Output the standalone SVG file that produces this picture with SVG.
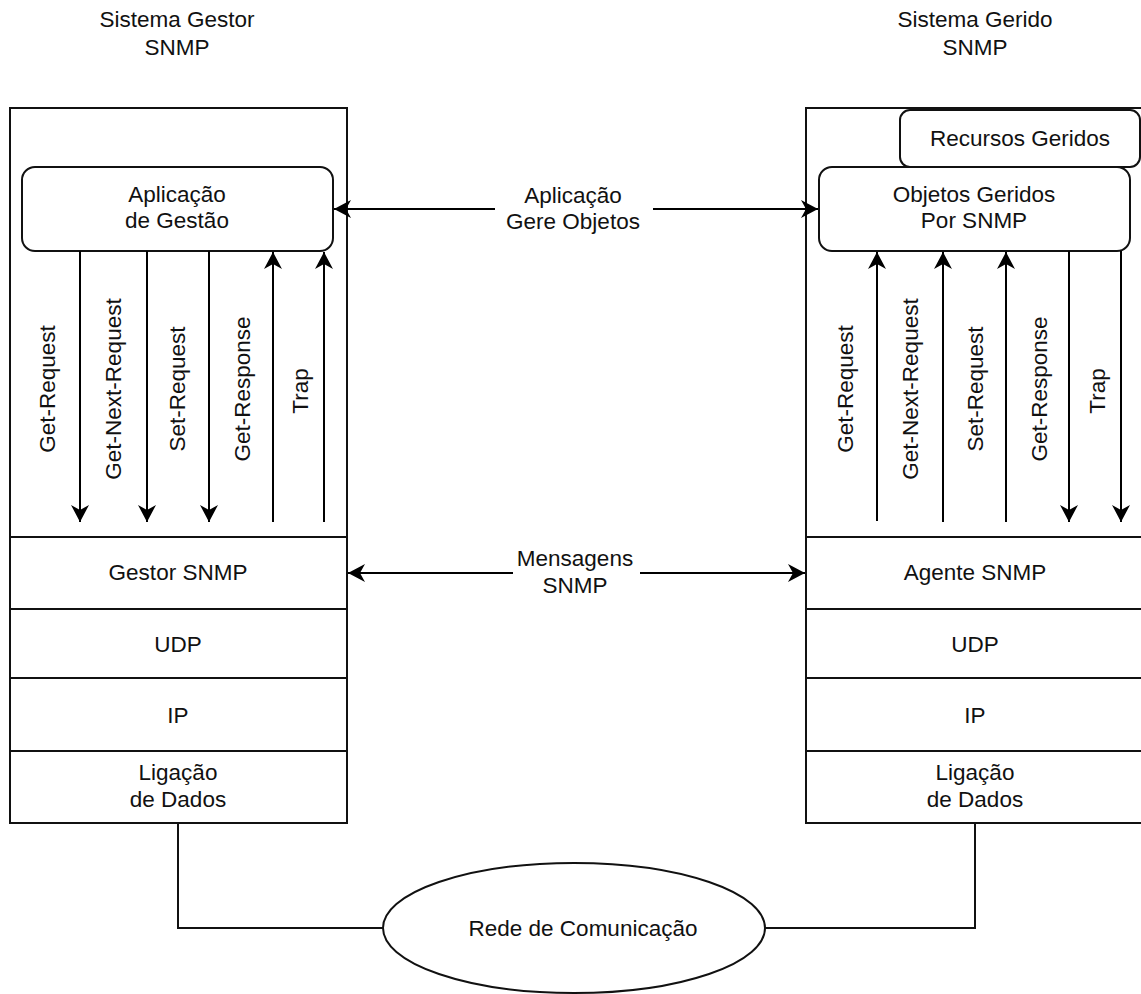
<svg xmlns="http://www.w3.org/2000/svg" width="1141" height="994" viewBox="0 0 1141 994">
<style>
text{font-family:"Liberation Sans",Arial,sans-serif;font-size:22.5px;fill:#111;text-anchor:middle}
.box{fill:#fff;stroke:#111;stroke-width:2}
.ln{fill:none;stroke:#111;stroke-width:2}
.arr{fill:none;stroke:#000;stroke-width:2;marker-end:url(#ah)}
</style>
<defs>
<marker id="ah" markerUnits="userSpaceOnUse" viewBox="-18 -10 19 20" refX="0" refY="0" markerWidth="19" markerHeight="20" orient="auto">
<path d="M0,0 L-17,-9 L-12,0 L-17,9 Z" fill="#000"/>
</marker>
</defs>
<rect width="1141" height="994" fill="#fff"/>

<g id="titles">
<text x="177" y="27">Sistema Gestor</text>
<text x="177" y="55">SNMP</text>
<text x="975" y="27">Sistema Gerido</text>
<text x="975" y="55">SNMP</text>
</g>

<g id="gestor">
<rect class="box" x="10" y="108" width="337" height="429"/>
<rect class="box" x="10" y="537" width="337" height="72"/>
<rect class="box" x="10" y="609" width="337" height="69"/>
<rect class="box" x="10" y="678" width="337" height="73"/>
<rect class="box" x="10" y="751" width="337" height="72"/>
<text x="178" y="580">Gestor SNMP</text>
<text x="178" y="652">UDP</text>
<text x="178" y="723">IP</text>
<text x="178" y="780">Ligação</text>
<text x="178" y="807">de Dados</text>
</g>
<g id="aplicacao">
<rect class="box" x="22" y="167" width="311" height="84" rx="13"/>
<text x="177" y="202">Aplicação</text>
<text x="177" y="228">de Gestão</text>
</g>

<g id="gerido">
<rect class="box" x="806" y="108" width="340" height="429"/>
<rect class="box" x="806" y="537" width="340" height="72"/>
<rect class="box" x="806" y="609" width="340" height="69"/>
<rect class="box" x="806" y="678" width="340" height="73"/>
<rect class="box" x="806" y="751" width="340" height="72"/>
<text x="975" y="580">Agente SNMP</text>
<text x="975" y="652">UDP</text>
<text x="975" y="723">IP</text>
<text x="975" y="780">Ligação</text>
<text x="975" y="807">de Dados</text>
</g>
<g id="recursos">
<rect class="box" x="900" y="110" width="240" height="57" rx="10"/>
<text x="1020" y="146">Recursos Geridos</text>
</g>
<g id="objetos">
<rect class="box" x="819" y="167" width="311" height="84" rx="13"/>
<text x="974" y="202">Objetos Geridos</text>
<text x="974" y="228">Por SNMP</text>
</g>

<g id="rede">
<ellipse class="box" cx="574" cy="928" rx="191" ry="65"/>
<text x="583" y="936">Rede de Comunicação</text>
</g>

<g id="connectors">
<path class="arr" d="M80,251 V522"/>
<path class="arr" d="M147,251 V522"/>
<path class="arr" d="M209,251 V522"/>
<path class="arr" d="M273,522 V252"/>
<path class="arr" d="M324,522 V252"/>
<path class="arr" d="M877,521 V252"/>
<path class="arr" d="M943,522 V252"/>
<path class="arr" d="M1006,522 V252"/>
<path class="arr" d="M1069,251 V522"/>
<path class="arr" d="M1121,251 V522"/>
<path class="arr" d="M495,209 H334"/>
<path class="arr" d="M653,209 H818"/>
<path class="arr" d="M513,573 H348"/>
<path class="arr" d="M640,573 H805"/>
<path class="ln" d="M178,823 V928 H383"/>
<path class="ln" d="M975,823 V928 H765"/>
</g>

<g id="labels">
<g transform="translate(55,389) rotate(-90)"><text>Get-Request</text></g>
<g transform="translate(121,389) rotate(-90)"><text>Get-Next-Request</text></g>
<g transform="translate(185,389) rotate(-90)"><text>Set-Request</text></g>
<g transform="translate(250,389) rotate(-90)"><text>Get-Response</text></g>
<g transform="translate(308,391) rotate(-90)"><text>Trap</text></g>
<g transform="translate(853,389) rotate(-90)"><text>Get-Request</text></g>
<g transform="translate(918,389) rotate(-90)"><text>Get-Next-Request</text></g>
<g transform="translate(983,389) rotate(-90)"><text>Set-Request</text></g>
<g transform="translate(1047,389) rotate(-90)"><text>Get-Response</text></g>
<g transform="translate(1105,391) rotate(-90)"><text>Trap</text></g>
<text x="573" y="203">Aplicação</text>
<text x="573" y="229">Gere Objetos</text>
<text x="575" y="566">Mensagens</text>
<text x="575" y="593">SNMP</text>
</g>
</svg>
